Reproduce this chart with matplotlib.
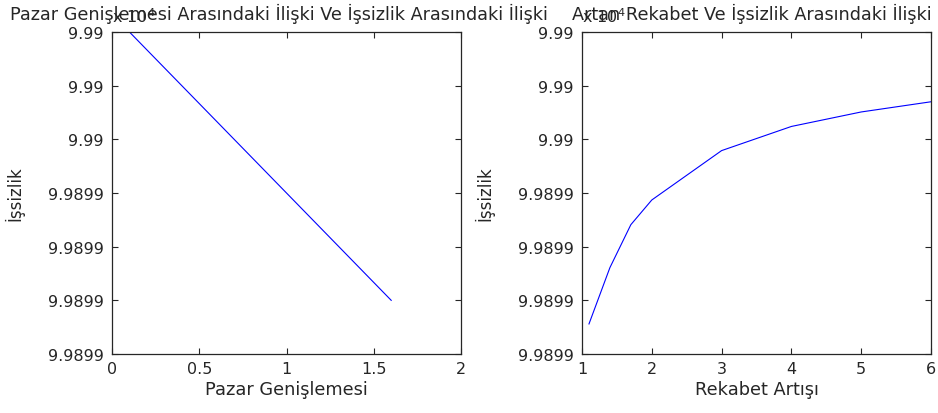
import matplotlib.pyplot as plt
import matplotlib.transforms as mtransforms

plt.rcParams['font.family'] = ['DejaVu Sans']

# left panel: Pazar Genişlemesi vs İşsizlik
pazar_x = [0.1, 0.4, 0.7, 1.0, 1.3, 1.6]
pazar_y = [99900.0, 99899.9, 99899.8, 99899.7, 99899.6, 99899.5]

# right panel: Rekabet Artışı vs İşsizlik
rekabet_x = [1.1, 1.4, 1.7, 2.0, 3.0, 4.0, 5.0, 6.0]
rekabet_y = [99899.456, 99899.561, 99899.641, 99899.687, 99899.779,
             99899.824, 99899.851, 99899.870]

y_ticks = [99899.4, 99899.5, 99899.6, 99899.7, 99899.8, 99899.9, 99900.0]
y_ticklabels = ['9.9899', '9.9899', '9.9899', '9.9899', '9.99', '9.99', '9.99']
left_xticks = [0, 0.5, 1, 1.5, 2]
right_xticks = [1, 2, 3, 4, 5, 6]

W, H = 938, 414
fig = plt.figure(figsize=(W / 100, H / 100), dpi=100)

def make_axes(x0, x1, y0, y1):
    return fig.add_axes([x0 / W, (H - y1) / H, (x1 - x0) / W, (y1 - y0) / H])

ax1 = make_axes(112, 461, 33, 355)
ax2 = make_axes(582, 931, 33, 355)

txtc = '#262626'
panels = [
    (ax1, pazar_x, pazar_y, left_xticks, (0, 2), 'Pazar Genişlemesi',
     'Pazar Genişlemesi Arasındaki İlişki Ve İşsizlik Arasındaki İlişki', 279),
    (ax2, rekabet_x, rekabet_y, right_xticks, (1, 6), 'Rekabet Artışı',
     'Artan Rekabet Ve İşsizlik Arasındaki İlişki', 752),
]

for ax, xs, ys, xt, xl, xlabel, title, tx in panels:
    ax.plot(xs, ys, color=(0, 0, 1), lw=0.8)
    ax.set_xlim(*xl)
    ax.set_ylim(y_ticks[0], y_ticks[-1])
    ax.set_xticks(xt)
    ax.set_xticklabels([('%g' % t) for t in xt], fontsize=11.5)
    ax.set_yticks(y_ticks)
    ax.set_yticklabels(y_ticklabels, fontsize=11.5)
    ax.tick_params(direction='in', length=4, width=0.8, top=True, right=True,
                   colors=txtc)
    ax.tick_params(axis='y', pad=6)
    ax.tick_params(axis='x', pad=5)
    for s in ax.spines.values():
        s.set_linewidth(0.9)
        s.set_color(txtc)
    ax.set_xlabel(xlabel, fontsize=12.8, labelpad=3, color=txtc)
    ax.set_ylabel('İşsizlik', fontsize=12, color=txtc)
    ax.yaxis.set_label_coords(-0.25, 0.5)
    fig.text(tx / W, 1 - 14 / H, title, fontsize=12.7, color=txtc,
             ha='center', va='center')
    off = mtransforms.offset_copy(ax.transAxes, fig=fig, x=0, y=5, units='points')
    ax.text(0.0, 1.0, r'x 10$^{4}$', transform=off, fontsize=11.5,
            ha='left', va='bottom', color=txtc)

fig.savefig('out.png', dpi=100)
